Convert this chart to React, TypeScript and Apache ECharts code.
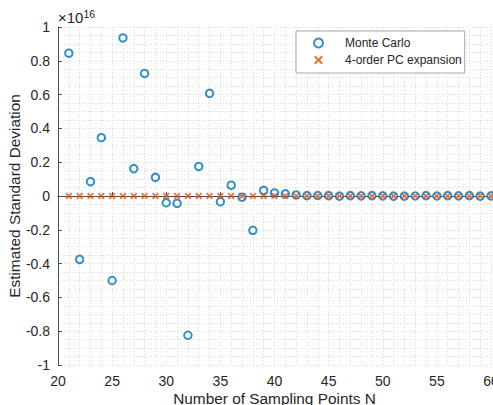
import React, { useEffect, useRef } from "react";
import * as echarts from "echarts";

// Number of sampling points N
const sampleCounts: number[] = [
  21, 22, 23, 24, 25, 26, 27, 28, 29, 30, 31, 32, 33, 34, 35, 36, 37, 38, 39, 40,
  41, 42, 43, 44, 45, 46, 47, 48, 49, 50, 51, 52, 53, 54, 55, 56, 57, 58, 59, 60,
];

// Estimated standard deviation, in units of 1e16
const monteCarloStd: number[] = [
  0.845, -0.375, 0.085, 0.345, -0.5, 0.935, 0.162, 0.725, 0.11, -0.04, -0.043, -0.824,
  0.175, 0.607, -0.034, 0.064, -0.007, -0.203, 0.033, 0.018, 0.013, 0.006, 0.002, 0.003,
  0.002, -0.001, 0.002, 0.001, 0.002, 0.001, -0.001, -0.001, 0.0, 0.002, 0.0, 0.002,
  0.001, 0.002, -0.001, 0.001,
];

const pcStd: number[] = [
  0, 0, 0, 0, 0, 0, 0, 0, 0, 0, 0, 0, 0, 0, 0, 0, 0, 0, 0, 0,
  0, 0, 0, 0, 0, 0, 0, 0, 0, 0, 0, 0, 0, 0, 0, 0, 0, 0, 0, 0,
];

const seriesNames = ["Monte Carlo", "4-order PC expansion"];
const xTitle = "Number of Sampling Points N";
const yTitle = "Estimated Standard Deviation";

const FONT = "Liberation Sans, Arial, Helvetica, sans-serif";
const TEXT = "#262626";
const GRID = "#d9d9d9";
const AXIS = "#4d4d4d";
const BLUE = "#0072BD";
const ORANGE = "#D95319";

const xMarker =
  "path://M1.8,0 L5,3.2 L8.2,0 L10,1.8 L6.8,5 L10,8.2 L8.2,10 L5,6.8 L1.8,10 L0,8.2 L3.2,5 L0,1.8 Z";

export default function App() {
  const ref = useRef<HTMLDivElement>(null);

  useEffect(() => {
    if (!ref.current) return;
    document.body.style.margin = "0";
    document.body.style.overflow = "hidden";
    const chart = echarts.init(ref.current, undefined, { renderer: "svg" });

    const axisCommon = {
      axisLine: { show: true, lineStyle: { color: AXIS, width: 1 } },
      axisTick: { show: true, inside: true, length: 4, lineStyle: { color: AXIS } },
      axisLabel: { color: TEXT, fontSize: 14, fontFamily: FONT },
      splitLine: { show: true, lineStyle: { color: GRID, type: [1, 2], width: 1 } },
      minorSplitLine: { show: true, lineStyle: { color: GRID, type: [1, 2], width: 1 } },
      nameTextStyle: { color: TEXT, fontSize: 15.4, fontFamily: FONT },
      nameLocation: "middle" as const,
      nameMoveOverlap: false,
    };

    chart.setOption({
      animation: false,
      backgroundColor: "#ffffff",
      textStyle: { fontFamily: FONT },
      grid: {
        left: 58,
        right: 2,
        top: 27,
        bottom: 40,
        containLabel: false,
        outerBoundsMode: "none",
      },
      xAxis: {
        type: "value",
        min: 20,
        max: 60,
        interval: 5,
        minorTick: { show: false, splitNumber: 5 },
        name: xTitle,
        nameGap: 25.5,
        ...axisCommon,
        axisLabel: { ...axisCommon.axisLabel, margin: 9 },
      },
      yAxis: {
        type: "value",
        min: -1,
        max: 1,
        interval: 0.2,
        minorTick: { show: false, splitNumber: 4 },
        name: yTitle,
        nameGap: 36,
        ...axisCommon,
        axisLabel: { ...axisCommon.axisLabel, margin: 8 },
      },
      legend: {
        show: true,
        orient: "vertical",
        left: 296,
        top: 31,
        padding: [6, 3, 7, 17],
        itemGap: 5,
        itemWidth: 9,
        itemHeight: 12,
        backgroundColor: "#ffffff",
        borderColor: "#a6a6a6",
        borderWidth: 1,
        borderRadius: 0,
        textStyle: {
          color: TEXT,
          fontSize: 12,
          fontFamily: FONT,
          lineHeight: 12,
          padding: [0, 0, 0, 17],
        },
        data: seriesNames,
      },
      graphic: [
        {
          type: "text",
          left: 58,
          top: 8,
          style: {
            text: "{a|×10}{b|16}",
            rich: {
              a: { fontSize: 15, fontFamily: FONT, fill: TEXT },
              b: { fontSize: 10.5, fontFamily: FONT, fill: TEXT, padding: [0, 0, 8, 0] },
            },
          },
        },
      ],
      series: [
        {
          name: seriesNames[0],
          type: "scatter",
          symbol: "emptyCircle",
          symbolSize: 7.5,
          itemStyle: { color: BLUE, borderColor: BLUE, borderWidth: 2.6 },
          data: sampleCounts.map((n, i) => [n, monteCarloStd[i]]),
          z: 2,
        },
        {
          name: seriesNames[1],
          type: "scatter",
          symbol: xMarker,
          symbolSize: 7,
          itemStyle: { color: ORANGE },
          data: sampleCounts.map((n, i) => [n, pcStd[i]]),
          z: 3,
        },
      ],
    });

    return () => chart.dispose();
  }, []);

  return <div ref={ref} style={{ width: 493, height: 405 }} />;
}
